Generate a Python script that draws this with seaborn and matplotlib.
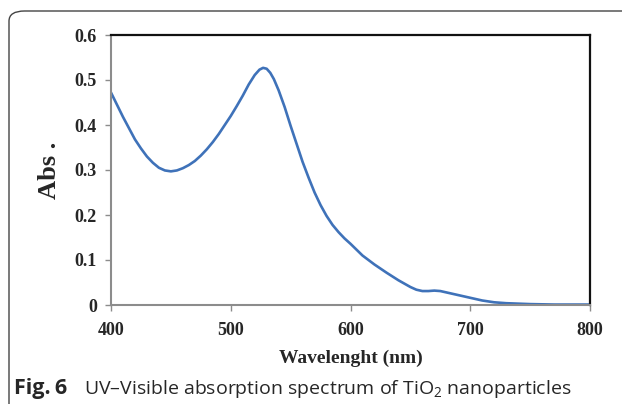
import matplotlib
matplotlib.use("Agg")
import matplotlib.pyplot as plt
import seaborn as sns
import pandas as pd
from matplotlib.patches import FancyBboxPatch

# ── Data ──────────────────────────────────────────────────────────────────────
wavelength = [400, 405, 410, 415, 420, 425, 430, 435, 440, 445, 450, 455, 460,
              465, 470, 475, 480, 485, 490, 495, 500, 505, 510, 515, 520, 524,
              527, 530, 533, 536, 540, 545, 550, 555, 560, 565, 570, 575, 580,
              585, 590, 595, 600, 610, 620, 630, 640, 650, 655, 660, 665, 670,
              675, 680, 690, 700, 710, 720, 730, 740, 750, 770, 800]
absorbance = [0.472, 0.445, 0.418, 0.393, 0.368, 0.348, 0.330, 0.316, 0.305,
              0.299, 0.297, 0.299, 0.304, 0.311, 0.320, 0.332, 0.346, 0.362,
              0.380, 0.400, 0.420, 0.442, 0.465, 0.490, 0.511, 0.523, 0.527,
              0.525, 0.516, 0.502, 0.477, 0.440, 0.398, 0.358, 0.318, 0.283,
              0.250, 0.222, 0.198, 0.178, 0.162, 0.148, 0.136, 0.110, 0.090,
              0.072, 0.055, 0.040, 0.034, 0.031, 0.031, 0.032, 0.031, 0.028,
              0.022, 0.016, 0.010, 0.006, 0.004, 0.003, 0.002, 0.001, 0.001]
x_ticks = [400, 500, 600, 700, 800]
y_ticks = [0, 0.1, 0.2, 0.3, 0.4, 0.5, 0.6]
y_tick_labels = ["0", "0.1", "0.2", "0.3", "0.4", "0.5", "0.6"]

df = pd.DataFrame({"wavelength": wavelength, "abs": absorbance})

sns.set_style("white")
plt.rcParams["font.family"] = ["Liberation Serif", "DejaVu Serif"]
plt.rcParams["mathtext.fontset"] = "custom"
plt.rcParams["mathtext.rm"] = "Open Sans"

W, H = 622, 404
fig = plt.figure(figsize=(W / 100, H / 100), dpi=100)
ax = fig.add_axes([111 / W, 1 - 305 / H, (590 - 111) / W, (305 - 35) / H])

sns.lineplot(data=df, x="wavelength", y="abs", ax=ax, color="#3f72b9",
             linewidth=1.9)

ax.set_xlim(400, 800)
ax.set_ylim(0, 0.6)
ax.set_xticks(x_ticks)
ax.set_xticklabels([str(t) for t in x_ticks])
ax.set_yticks(y_ticks)
ax.set_yticklabels(y_tick_labels)
ax.tick_params(axis="both", direction="out", length=4, width=1, color="#8c8c8c",
               labelsize=13, left=True, bottom=True)
ax.tick_params(axis="y", pad=6)
ax.tick_params(axis="x", pad=8)
for lab in ax.get_xticklabels() + ax.get_yticklabels():
    lab.set_fontweight("bold")

for side in ["left", "bottom"]:
    ax.spines[side].set_color("#8c8c8c")
    ax.spines[side].set_linewidth(1.5)
for side in ["top", "right"]:
    ax.spines[side].set_color("#111111")
    ax.spines[side].set_linewidth(1.6)

ax.set_xlabel("Wavelenght (nm)", fontsize=14, fontweight="bold", labelpad=8)
ax.set_ylabel("Abs .", fontsize=19, fontweight="bold", labelpad=10)

# figure frame with a rounded corner
frame = FancyBboxPatch((9 / W, -0.2), 1.2, 1 - 11 / H + 0.2,
                       boxstyle="round,pad=0,rounding_size=0.025",
                       transform=fig.transFigure, fill=False,
                       edgecolor="#444444", linewidth=1.0, clip_on=False)
fig.patches.append(frame)

# caption
fig.text(14 / W, 1 - 394 / H, "Fig.\u20096", family=["Open Sans", "DejaVu Sans"],
         fontweight="bold", fontsize=15.5, ha="left", va="baseline")
fig.text(84 / W, 1 - 394 / H,
         "UV\u2013Visible absorption spectrum of TiO$_2$ nanoparticles",
         family="Open Sans", fontsize=14, ha="left", va="baseline")

fig.savefig("out.png", dpi=100)
